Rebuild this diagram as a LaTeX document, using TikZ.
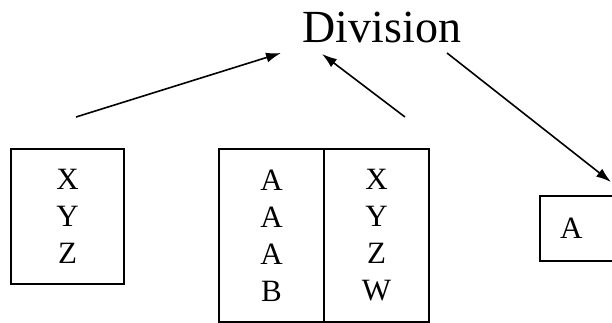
\documentclass[tikz,border=0pt]{standalone}
\usepackage{fontspec}
\setmainfont{Liberation Serif}
\usetikzlibrary{positioning,arrows.meta}

\begin{document}
\begin{tikzpicture}[x=1pt,y=-1pt,
        box/.style={draw, line width=2.2pt, outer sep=0pt, inner sep=0pt, align=center,
            font=\fontsize{31}{37}\selectfont},
        arr/.style={-{Latex[length=15pt,width=10pt]}, line width=1.6pt}]
        \useasboundingbox (0,0) rectangle (612,323);

        \node[anchor=base, font=\fontsize{46}{50}\selectfont] (d) at (382,43) {Division};

        \node[box, minimum width=113pt, minimum height=135pt] (a) at (67.5,216.5) {X\\Y\\Z};
        \node[box, minimum width=105pt, minimum height=173pt] (b) at (271.5,235.4) {A\\A\\A\\B};
        \node[box, minimum width=105pt, minimum height=173pt, right=0pt of b] (c) {X\\Y\\Z\\W};
        \node[box, anchor=west, minimum height=65pt, inner xsep=20pt, text width=50pt, align=left] (s) at (540,228.5) {A};

        \coordinate (e) at (76,117);
        \coordinate (f) at (281,53);
        \coordinate (g) at (405,117);
        \coordinate (h) at (322,54);
        \coordinate (i) at (447,53);
        \coordinate (j) at (611,182);

        \draw[arr] (e) -- (f);
        \draw[arr] (g) -- (h);
        \draw[arr] (i) -- (j);
\end{tikzpicture}
\end{document}
